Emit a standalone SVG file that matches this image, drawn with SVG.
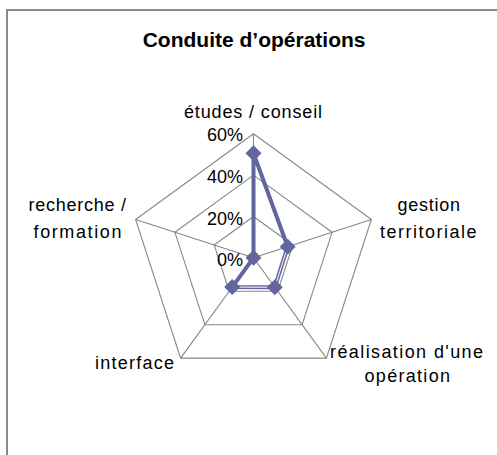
<svg xmlns="http://www.w3.org/2000/svg" width="497" height="455" viewBox="0 0 497 455">
<style>
.frame{fill:#ffffff;stroke:#8a8a8a;stroke-width:2}
.grid{fill:none;stroke:#878787;stroke-width:1.1}
.series{fill:none;stroke:#63659f;stroke-width:4;stroke-linejoin:round}
.inner{fill:none;stroke:#ffffff;stroke-width:1}
.mk{fill:#63659f}
.lbl{font-family:"Liberation Sans",Arial,sans-serif;font-size:18px;fill:#000}
.ttl{font-family:"Liberation Sans",Arial,sans-serif;font-size:21px;font-weight:bold;fill:#000}
</style>
<defs>
<path id="dia" d="M0,-8 L8,0 L0,8 L-8,0 Z"/>
</defs>
<rect class="frame" x="7" y="10" width="500" height="460"/>
<g id="title"><text class="ttl" x="142.7" y="46.7">Conduite d’opérations</text></g>
<g id="grid">
<polygon class="grid" points="253.5,216.5 292.8,245.0 277.8,291.2 229.2,291.2 214.2,245.0"/>
<polygon class="grid" points="253.5,175.1 332.1,232.3 302.1,324.7 204.9,324.7 174.9,232.3"/>
<polygon class="grid" points="253.5,133.8 371.4,219.5 326.4,358.1 180.6,358.1 135.6,219.5"/>
<path class="grid" d="M253.5,257.8 L253.5,133.8 M253.5,257.8 L371.4,219.5 M253.5,257.8 L326.4,358.1 M253.5,257.8 L180.6,358.1 M253.5,257.8 L135.6,219.5"/>
</g>
<g id="axis-labels">
<text class="lbl" x="243" y="141" text-anchor="end">60%</text>
<text class="lbl" x="243" y="183" text-anchor="end">40%</text>
<text class="lbl" x="243" y="224.5" text-anchor="end">20%</text>
<text class="lbl" x="243" y="265.5" text-anchor="end">0%</text>
</g>
<g id="connectors">
<polygon class="series" points="253.5,153.3 287.7,246.7 274.8,287.2 232.2,287.1 253.5,257.8"/>
<polyline class="inner" points="287.7,246.7 274.8,287.2 232.2,287.1"/>
</g>
<g id="markers">
<use href="#dia" class="mk" x="253.5" y="153.3"/>
<use href="#dia" class="mk" x="287.7" y="246.7"/>
<use href="#dia" class="mk" x="274.8" y="287.2"/>
<use href="#dia" class="mk" x="232.2" y="287.1"/>
<use href="#dia" class="mk" x="253.5" y="257.8"/>
</g>
<g id="node-etudes"><text class="lbl" x="184" y="118" textLength="138" lengthAdjust="spacing">études / conseil</text></g>
<g id="node-gestion">
<text class="lbl" x="397.5" y="211" textLength="62.5" lengthAdjust="spacing">gestion</text>
<text class="lbl" x="380" y="237.5" textLength="96.5" lengthAdjust="spacing">territoriale</text>
</g>
<g id="node-realisation">
<text class="lbl" x="330" y="358" textLength="153" lengthAdjust="spacing">réalisation d'une</text>
<text class="lbl" x="364.5" y="382" textLength="85.5" lengthAdjust="spacing">opération</text>
</g>
<g id="node-interface"><text class="lbl" x="95" y="369" textLength="79" lengthAdjust="spacing">interface</text></g>
<g id="node-recherche">
<text class="lbl" x="28.5" y="211" textLength="97.5" lengthAdjust="spacing">recherche /</text>
<text class="lbl" x="33.5" y="237.5" textLength="88" lengthAdjust="spacing">formation</text>
</g>
</svg>
